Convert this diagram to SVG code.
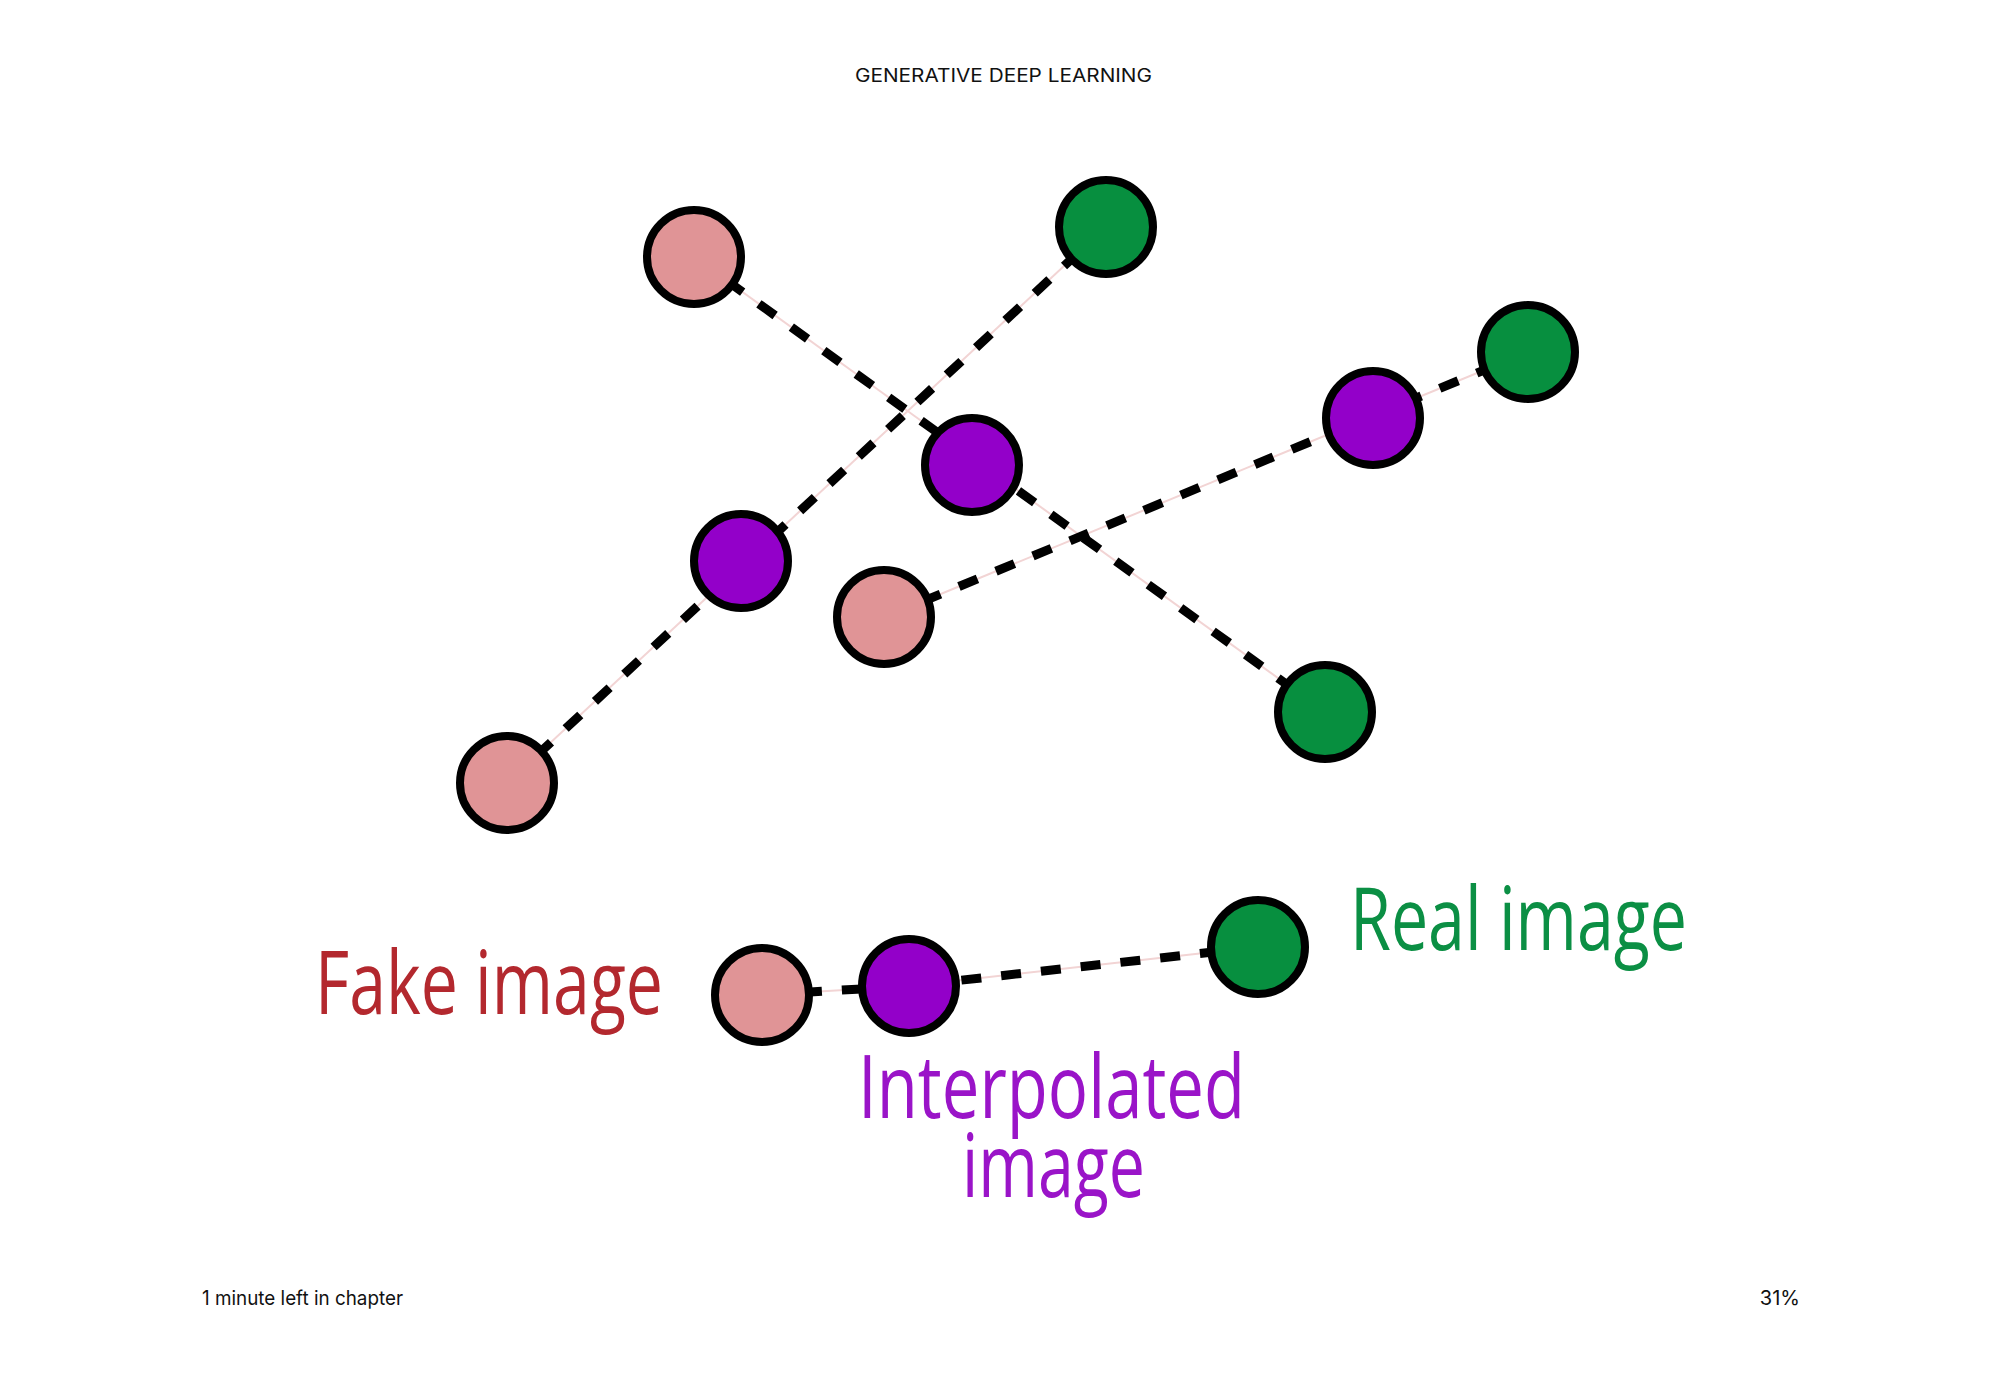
<svg xmlns="http://www.w3.org/2000/svg" width="2000" height="1397" viewBox="0 0 2000 1397">
<style>
.bg{fill:#ffffff}
.under{stroke:#f2d4d4;stroke-width:2;fill:none}
.dash{stroke:#000;stroke-width:9;stroke-dasharray:20 20;fill:none}
.node{stroke:#000;stroke-width:8}
.fake{fill:#e09496}
.real{fill:#078f3f}
.interp{fill:#9300c9}
.lbl{font-family:"Open Sans","Liberation Sans",sans-serif;font-size:88px}
.ui{font-family:Inter,"Liberation Sans",sans-serif;fill:#111}
</style>
<rect class="bg" x="0" y="0" width="2000" height="1397"/>
<g id="header">
<text class="ui" x="1003.5" y="82" font-size="18" text-anchor="middle" textLength="297" lengthAdjust="spacingAndGlyphs">GENERATIVE DEEP LEARNING</text>
</g>
<g id="connectors">
<line class="under" x1="694" y1="257" x2="1325" y2="712"/>
<line class="dash" x1="694" y1="257" x2="1325" y2="712"/>
<line class="under" x1="507" y1="783" x2="1106" y2="227"/>
<line class="dash" x1="507" y1="783" x2="1106" y2="227"/>
<line class="under" x1="885" y1="617" x2="1528" y2="352"/>
<line class="dash" x1="885" y1="617" x2="1528" y2="352"/>
<polyline class="under" points="762,995 909,986 1258,947"/>
<polyline class="dash" points="762,995 909,986 1258,947"/>
</g>
<g id="fake1"><circle class="node fake" cx="694" cy="257" r="47"/></g>
<g id="real1"><circle class="node real" cx="1106" cy="227" r="47"/></g>
<g id="interp1"><circle class="node interp" cx="972" cy="465" r="47"/></g>
<g id="interp2"><circle class="node interp" cx="1373" cy="418" r="47"/></g>
<g id="real2"><circle class="node real" cx="1528" cy="352" r="47"/></g>
<g id="interp3"><circle class="node interp" cx="741" cy="561" r="47"/></g>
<g id="fake2"><circle class="node fake" cx="884" cy="617" r="47"/></g>
<g id="real3"><circle class="node real" cx="1325" cy="712" r="47"/></g>
<g id="fake3"><circle class="node fake" cx="507" cy="783" r="47"/></g>
<g id="legend-fake"><circle class="node fake" cx="762" cy="995" r="47"/>
<text class="lbl" x="315" y="1014" fill="#b3282e" textLength="348" lengthAdjust="spacingAndGlyphs">Fake image</text></g>
<g id="legend-interp"><circle class="node interp" cx="909" cy="986" r="47"/>
<text class="lbl" fill="#9a14c8"><tspan x="858" y="1118" textLength="387" lengthAdjust="spacingAndGlyphs">Interpolated</tspan><tspan x="962" y="1197" textLength="183" lengthAdjust="spacingAndGlyphs">image</tspan></text></g>
<g id="legend-real"><circle class="node real" cx="1258" cy="947" r="47"/>
<text class="lbl" x="1350" y="950" fill="#0b8f44" textLength="337" lengthAdjust="spacingAndGlyphs">Real image</text></g>
<g id="footer">
<text class="ui" x="202" y="1305" font-size="20" textLength="201" lengthAdjust="spacingAndGlyphs">1 minute left in chapter</text>
<text class="ui" x="1800" y="1305" font-size="20" text-anchor="end">31%</text>
</g>
</svg>
